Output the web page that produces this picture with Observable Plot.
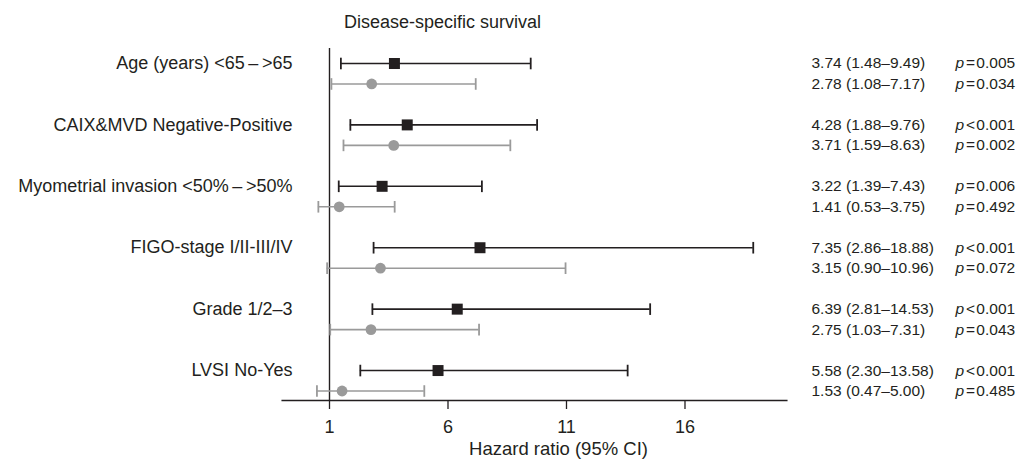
<!DOCTYPE html>
<html>
<head>
<meta charset="utf-8">
<script src="https://cdn.jsdelivr.net/npm/d3@7"></script>
<script src="https://cdn.jsdelivr.net/npm/@observablehq/plot@0.6"></script>
<style>
  html, body { margin: 0; padding: 0; background: #fff; }
  #chart svg { display: block; }
</style>
</head>
<body>
<div id="chart"></div>
<script>
// ---- data ----
const title = "Disease-specific survival";
const xLabel = "Hazard ratio (95% CI)";
const xTicks = [1, 6, 11, 16];
const labels = [
  "Age (years) <65\u2009\u2013\u2009>65",
  "CAIX&MVD Negative-Positive",
  "Myometrial invasion <50%\u2009\u2013\u2009>50%",
  "FIGO-stage I/II-III/IV",
  "Grade 1/2\u20133",
  "LVSI No-Yes"
];
// black series (square markers)
const hrA = [3.74, 4.28, 3.22, 7.35, 6.39, 5.58];
const loA = [1.48, 1.88, 1.39, 2.86, 2.81, 2.30];
const hiA = [9.49, 9.76, 7.43, 18.88, 14.53, 13.58];
const pA  = ["=\u200a0.005", "<\u200a0.001", "=\u200a0.006", "<\u200a0.001", "<\u200a0.001", "<\u200a0.001"];
// grey series (circle markers)
const hrB = [2.78, 3.71, 1.41, 3.15, 2.75, 1.53];
const loB = [1.08, 1.59, 0.53, 0.90, 1.03, 0.47];
const hiB = [7.17, 8.63, 3.75, 10.96, 7.31, 5.00];
const pB  = ["=\u200a0.034", "=\u200a0.002", "=\u200a0.492", "=\u200a0.072", "=\u200a0.043", "=\u200a0.485"];

// ---- build table ----
const rows = [];
labels.forEach((lab, i) => {
  rows.push({label: lab, series: "A", pos: i * 3, hr: hrA[i], lo: loA[i], hi: hiA[i], p: pA[i]});
  rows.push({label: lab, series: "B", pos: i * 3 + 1, hr: hrB[i], lo: loB[i], hi: hiB[i], p: pB[i]});
});
const rowsA = rows.filter(d => d.series === "A");
const rowsB = rows.filter(d => d.series === "B");
const fmt = d => `${d.hr.toFixed(2)} (${d.lo.toFixed(2)}\u2013${d.hi.toFixed(2)})`;

// ---- style / layout ----
const W = 1019, H = 461;
const mL = 281.6, mR = 232.6, mT = 48, mB = 61;
const dark = "#231f20", grey = "#9a9a9a";
const font = "'Liberation Sans', Arial, Helvetica, sans-serif";
const rightEdge = W - mR;
const capSymbol = {
  draw(context, size) {
    const h = Math.sqrt(size / Math.PI);
    context.moveTo(0, -h);
    context.lineTo(0, h);
  }
};

const chart = Plot.plot({
  width: W,
  height: H,
  marginLeft: mL,
  marginRight: mR,
  marginTop: mT,
  marginBottom: mB,
  style: {fontFamily: font, fontSize: "18px", color: dark, background: "#fff", overflow: "visible"},
  x: {domain: [-1, 20.3]},
  y: {domain: [-15 / 20.47, 337 / 20.47], reverse: true, axis: null},
  marks: [
    Plot.frame({anchor: "bottom", stroke: dark, strokeWidth: 1.3}),
    Plot.axisX({ticks: xTicks, tickSize: 9, tickPadding: 11, label: null, stroke: dark, strokeWidth: 1.3, fontSize: 18, fill: dark}),
    Plot.ruleX([1], {stroke: dark, strokeWidth: 1.4}),
    // CI lines
    Plot.ruleY(rows, {y: "pos", x1: "lo", x2: "hi", stroke: d => d.series === "A" ? dark : grey, strokeWidth: 1.6}),
    Plot.dot(rows, {x: "lo", y: "pos", symbol: capSymbol, r: 5.8, stroke: d => d.series === "A" ? dark : grey, strokeWidth: 1.8, fill: "none"}),
    Plot.dot(rows, {x: "hi", y: "pos", symbol: capSymbol, r: 5.8, stroke: d => d.series === "A" ? dark : grey, strokeWidth: 1.8, fill: "none"}),
    // markers
    Plot.dot(rowsA, {x: "hr", y: "pos", symbol: "square", r: 6.2, fill: dark, stroke: "none"}),
    Plot.dot(rowsB, {x: "hr", y: "pos", symbol: "circle", r: 5.4, fill: grey, stroke: "none"}),
    // row labels
    Plot.text(rowsA, {y: "pos", text: "label", frameAnchor: "left", dx: 292 - mL, textAnchor: "end", fontSize: 18, fill: dark}),
    // HR text
    Plot.text(rows, {y: "pos", text: fmt, frameAnchor: "right", dx: 811 - rightEdge, textAnchor: "start", fontSize: 15.5, fill: dark}),
    Plot.text(rows, {y: "pos", text: () => "p", frameAnchor: "right", dx: 955 - rightEdge, textAnchor: "start", fontSize: 15.5, fontStyle: "italic", fill: dark}),
    Plot.text(rows, {y: "pos", text: "p", frameAnchor: "right", dx: 965.5 - rightEdge, textAnchor: "start", fontSize: 15.5, fill: dark}),
    // title & axis label
    Plot.text([title], {frameAnchor: "top-left", dx: 442 - mL, dy: 15 - mT, textAnchor: "middle", fontSize: 18, fill: dark}),
    Plot.text([xLabel], {frameAnchor: "bottom-left", dx: 558 - mL, dy: 454 - (H - mB), textAnchor: "middle", fontSize: 18.5, fill: dark})
  ]
});
document.getElementById("chart").appendChild(chart);
</script>
</body>
</html>
